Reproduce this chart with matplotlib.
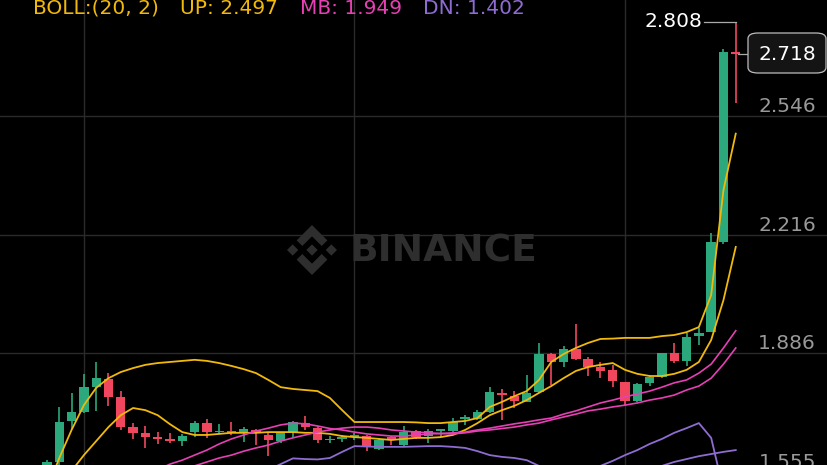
import numpy as np
import matplotlib.pyplot as plt
from matplotlib.patches import Polygon, FancyBboxPatch
from matplotlib.transforms import Affine2D

nan = np.nan

# OHLC per candle (left to right)
opens = [1.575, 1.584, 1.698, 1.723, 1.792, 1.815, 1.765, 1.681, 1.665, 1.652,
         1.648, 1.642, 1.667, 1.692, 1.667, 1.667, 1.665, 1.673, 1.659, 1.643,
         1.668, 1.693, 1.678, 1.645, 1.649, 1.653, 1.656, 1.620, 1.653, 1.631,
         1.670, 1.656, 1.671, 1.670, 1.703, 1.703, 1.724, 1.777, 1.768, 1.752,
         1.779, 1.884, 1.863, 1.898, 1.870, 1.848, 1.840, 1.806, 1.754, 1.803,
         1.819, 1.886, 1.866, 1.934, 1.946, 2.197, 2.725]
closes = [1.584, 1.695, 1.723, 1.792, 1.817, 1.765, 1.681, 1.665, 1.653, 1.648,
          1.642, 1.656, 1.692, 1.667, 1.671, 1.665, 1.676, 1.665, 1.645, 1.665,
          1.696, 1.682, 1.645, 1.649, 1.653, 1.659, 1.628, 1.645, 1.648, 1.668,
          1.653, 1.671, 1.674, 1.696, 1.709, 1.723, 1.779, 1.770, 1.754, 1.777,
          1.884, 1.863, 1.898, 1.870, 1.849, 1.838, 1.810, 1.754, 1.800, 1.821,
          1.886, 1.866, 1.932, 1.943, 2.197, 2.725, 2.718]
highs = [1.589, 1.737, 1.776, 1.829, 1.862, 1.831, 1.781, 1.692, 1.684, 1.667,
         1.665, 1.662, 1.698, 1.703, 1.690, 1.696, 1.682, 1.676, 1.668, 1.668,
         1.698, 1.712, 1.684, 1.656, 1.659, 1.665, 1.659, 1.651, 1.656, 1.685,
         1.673, 1.676, 1.676, 1.707, 1.715, 1.728, 1.793, 1.787, 1.781, 1.826,
         1.915, 1.887, 1.906, 1.968, 1.877, 1.862, 1.854, 1.806, 1.804, 1.827,
         1.887, 1.914, 1.942, 1.956, 2.222, 2.732, 2.808]
lows = [1.570, 1.576, 1.676, 1.720, 1.726, 1.740, 1.673, 1.648, 1.623, 1.634,
        1.637, 1.628, 1.653, 1.651, 1.662, 1.659, 1.640, 1.631, 1.601, 1.637,
        1.651, 1.673, 1.637, 1.637, 1.640, 1.645, 1.615, 1.617, 1.631, 1.626,
        1.648, 1.637, 1.653, 1.668, 1.687, 1.701, 1.721, 1.701, 1.734, 1.752,
        1.776, 1.798, 1.849, 1.868, 1.823, 1.818, 1.792, 1.742, 1.752, 1.795,
        1.817, 1.858, 1.851, 1.909, 1.945, 2.190, 2.583]

# indicator lines
boll_up = [1.506, 1.595, 1.673, 1.742, 1.790, 1.817, 1.834, 1.845, 1.854, 1.859,
           1.862, 1.865, 1.868, 1.865, 1.859, 1.851, 1.842, 1.831, 1.812, 1.792,
           1.787, 1.784, 1.781, 1.762, 1.728, 1.695, 1.695, 1.695, 1.695, 1.695,
           1.694, 1.692, 1.692, 1.695, 1.698, 1.706, 1.737, 1.751, 1.767, 1.781,
           1.812, 1.862, 1.884, 1.901, 1.915, 1.926, 1.927, 1.929, 1.929, 1.929,
           1.934, 1.937, 1.945, 1.959, 2.048, 2.340, 2.497]
boll_mb = [nan] * 9 + [
    1.562, 1.578, 1.589, 1.603, 1.617, 1.634, 1.648, 1.659, 1.670, 1.678,
    1.687, 1.692, 1.690, 1.684, 1.677, 1.673, 1.667, 1.662, 1.659, 1.656,
    1.656, 1.659, 1.662, 1.663, 1.665, 1.667, 1.673, 1.678, 1.684, 1.690,
    1.695, 1.701, 1.706, 1.717, 1.726, 1.737, 1.748, 1.756, 1.765, 1.773,
    1.781, 1.792, 1.804, 1.812, 1.831, 1.856, 1.901, 1.949]
boll_dn = [nan] * 18 + [
    1.562, 1.578, 1.594, 1.592, 1.591, 1.595, 1.612, 1.628, 1.627, 1.626,
    1.626, 1.626, 1.627, 1.628, 1.628, 1.626, 1.623, 1.614, 1.603, 1.598,
    1.595, 1.589, 1.573, 1.556, 1.545, 1.545, 1.556, 1.573, 1.587, 1.603,
    1.617, 1.634, 1.648, 1.665, 1.678, 1.692, 1.651, 1.506, 1.402]
ma7 = [1.478, 1.517, 1.559, 1.603, 1.642, 1.681, 1.714, 1.734, 1.728, 1.714,
       1.689, 1.667, 1.659, 1.659, 1.662, 1.665, 1.665, 1.665, 1.667, 1.667,
       1.667, 1.665, 1.665, 1.662, 1.656, 1.653, 1.651, 1.648, 1.645, 1.648,
       1.651, 1.651, 1.653, 1.659, 1.673, 1.692, 1.714, 1.728, 1.740, 1.756,
       1.776, 1.795, 1.817, 1.837, 1.848, 1.854, 1.859, 1.840, 1.829, 1.823,
       1.823, 1.829, 1.840, 1.862, 1.923, 2.034, 2.182]
ma25 = [nan] * 12 + [
    1.573, 1.584, 1.595, 1.603, 1.614, 1.623, 1.631, 1.642, 1.651, 1.659, 1.667,
    1.673, 1.678, 1.681, 1.681, 1.678, 1.673, 1.670, 1.667, 1.665, 1.663,
    1.662, 1.665, 1.670, 1.673, 1.677, 1.681, 1.687, 1.692, 1.701, 1.709,
    1.717, 1.726, 1.731, 1.737, 1.742, 1.748, 1.756, 1.762, 1.770, 1.784,
    1.795, 1.817, 1.856, 1.901]
ma99 = [nan] * 49 + [1.562, 1.573, 1.584, 1.592, 1.600, 1.606, 1.612, 1.617]

price_ticks = [2.546, 2.216, 1.886, 1.555]
grid_candles = [3, 25, 47]

GREEN = '#2BA87C'
RED = '#F0475E'
YELLOW = '#F0B90B'
PINK = '#E540B4'
PURPLE = '#8E6CD2'
GRID = '#2a2a2a'

W, H = 828, 465
fig = plt.figure(figsize=(W / 100, H / 100), dpi=100, facecolor='black')
ax = fig.add_axes([0, 0, 1, 1])
ax.set_facecolor('black')
for s in ax.spines.values():
    s.set_visible(False)
ax.set_xticks([])
ax.set_yticks([])

ax.set_xlim(-3.82, 63.5)
ax.set_ylim(1.5755, 2.8686)

# grid
for p in price_ticks:
    ax.axhline(p, color=GRID, lw=1, zorder=0)
for g in grid_candles:
    ax.axvline(g, color=GRID, lw=1, zorder=0)

# watermark
ax.text(443 / W, 1 - 251 / H, 'BINANCE', transform=ax.transAxes, ha='center',
        va='center', fontsize=27, fontweight='bold', color='#2e2e2e', zorder=0.5)
logo = [
    [(38.73, 53.2), (63.3, 28.63), (87.89, 53.22), (102.19, 38.92), (63.3, 0), (24.42, 38.9)],
    [(0, 63.31), (14.3, 49.01), (28.6, 63.31), (14.3, 77.61)],
    [(49.0, 63.31), (63.31, 49.0), (77.61, 63.31), (63.31, 77.61)],
    [(97.99, 63.31), (112.29, 49.01), (126.59, 63.31), (112.29, 77.61)],
    [(38.73, 73.41), (63.3, 97.98), (87.89, 73.39), (102.2, 87.69), (63.3, 126.61), (24.41, 87.71)],
]
sc = 50 / 126.6
tr = (Affine2D().translate(-63.3, -63.3).scale(sc / 100, -sc / 100)
      .translate(312 / 100, (H - 250) / 100) + fig.dpi_scale_trans)
for pts in logo:
    ax.add_patch(Polygon(pts, closed=True, transform=tr, facecolor='#2e2e2e',
                         edgecolor='none', zorder=0.5))

# candles
x = np.arange(len(opens))
o = np.array(opens)
c = np.array(closes)
colors = [GREEN if cc >= oo else RED for oo, cc in zip(o, c)]
ax.vlines(x, lows, highs, colors=colors, lw=1.2, zorder=2)
body = np.maximum(np.abs(c - o), 0.004)
ax.bar(x, body, bottom=np.minimum(o, c), width=0.76, color=colors, zorder=2)

# lines
ax.plot(x, boll_up, color=YELLOW, lw=1.3, zorder=3)
ax.plot(x, ma7, color=YELLOW, lw=1.3, zorder=3)
ax.plot(x, boll_mb, color=PINK, lw=1.2, zorder=3)
ax.plot(x, ma25, color=PINK, lw=1.2, zorder=3)
ax.plot(x, boll_dn, color=PURPLE, lw=1.3, zorder=3)
ax.plot(x, ma99, color=PURPLE, lw=1.3, zorder=3)

# right price scale
for p in price_ticks:
    ax.annotate(f'{p:.3f}', xy=(816 / W, p), xycoords=('axes fraction', 'data'),
                xytext=(0, 3), textcoords='offset points', ha='right', va='baseline',
                fontsize=14.5, color='#999999')

# highest price marker
last = len(opens) - 1
ax.plot([x[last] - 2.6, x[last]], [highs[last], highs[last]], color='#aaaaaa', lw=0.9, zorder=3)
ax.text(x[last] - 2.7, highs[last], f'{highs[last]:.3f}', ha='right', va='center',
        fontsize=14.5, color='white', zorder=4)

# current price box
ax.plot([x[last] + 0.2, x[last] + 0.9], [closes[last], closes[last]], color='#aaaaaa', lw=0.9, zorder=3)
ax.add_patch(FancyBboxPatch((748 / W, 1 - 73 / H), 78 / W, 40 / H,
                            boxstyle='round,pad=0,rounding_size=0.012',
                            transform=ax.transAxes, facecolor='#141414',
                            edgecolor='#bdbdbd', lw=0.9, zorder=5, clip_on=False))
ax.annotate(f'{closes[last]:.3f}', xy=(787 / W, closes[last]), xycoords=('axes fraction', 'data'),
            ha='center', va='center', fontsize=14.5, color='white', zorder=6)

# BOLL legend
ty = 1 - 14 / H
fig.text(33 / W, ty, 'BOLL:(20, 2)', color=YELLOW, fontsize=14.5, va='baseline')
fig.text(180 / W, ty, f'UP: {boll_up[-1]:.3f}', color=YELLOW, fontsize=14.5, va='baseline')
fig.text(300 / W, ty, f'MB: {boll_mb[-1]:.3f}', color=PINK, fontsize=14.5, va='baseline')
fig.text(423 / W, ty, f'DN: {boll_dn[-1]:.3f}', color=PURPLE, fontsize=14.5, va='baseline')

fig.savefig('out.png', dpi=100, facecolor='black')
